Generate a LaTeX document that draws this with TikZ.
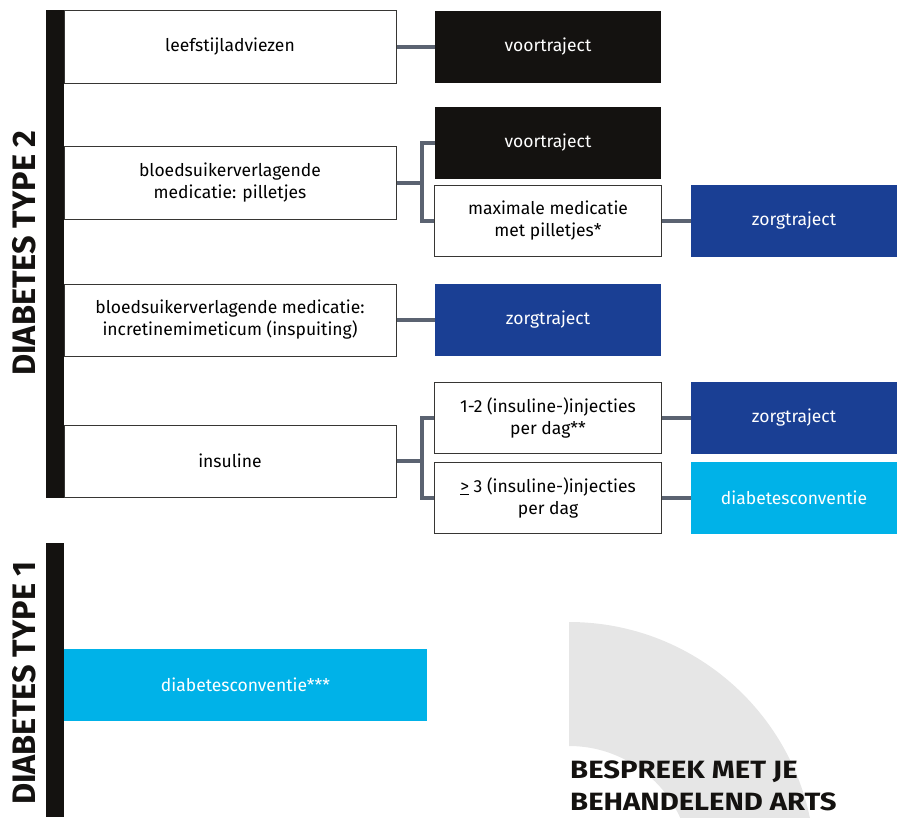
\documentclass[tikz,border=0pt]{standalone}
\usepackage{fontspec}
\setmainfont{Fira Sans}
\newfontfamily\breed{Fira Sans}[FakeStretch=1.17]
\usetikzlibrary{positioning}
\definecolor{zwart}{HTML}{141210}
\definecolor{donkerblauw}{HTML}{1A3F94}
\definecolor{lichtblauw}{HTML}{00B2E8}
\definecolor{lijngrijs}{HTML}{5B6371}
\definecolor{boogrijs}{HTML}{E6E6E6}
\tikzset{
  wit/.style={draw=zwart!85,line width=1pt,fill=white,align=center,inner sep=0pt,font=\fontsize{17.5}{22}\selectfont},
  zwartvak/.style={fill=zwart,text=white,inner sep=0pt,font=\fontsize{17.5}{22}\selectfont},
  donker/.style={fill=donkerblauw,text=white,inner sep=0pt,font=\fontsize{17.5}{22}\selectfont},
  licht/.style={fill=lichtblauw,text=white,inner sep=0pt,font=\fontsize{17.5}{22}\selectfont},
  lijn/.style={draw=lijngrijs,line width=4pt},
  titel/.style={rotate=90,font=\fontsize{32.5}{32}\selectfont\bfseries,text=zwart,inner sep=0pt},
  kop/.style={font=\breed\fontsize{25}{33}\selectfont\bfseries,text=zwart,anchor=base west,inner sep=0pt,text depth=0pt}
}
\begin{document}
\begin{tikzpicture}[x=1pt,y=-1pt]
            \useasboundingbox (0,0) rectangle (897,817);
            \begin{scope}
            \clip (0,0) rectangle (897,817);
            \fill[boogrijs] (569,622) arc[start angle=-90,end angle=0,radius=246] -- (691,868) arc[start angle=0,end angle=-90,radius=122] -- cycle;
            \end{scope}
            \node[kop] (bespreek) at (570,778) {BESPREEK MET JE};
            \node[kop] (arts) at (570,810) {BEHANDELEND ARTS};

            \fill[zwart] (46,10) rectangle (64,498);
            \fill[zwart] (46,543) rectangle (64,817);
            \node[titel] (type2) at (24,253) {DIABETES TYPE 2};
            \node[titel] (type1) at (24,683) {DIABETES TYPE 1};

            \node[wit,minimum width=332pt,minimum height=73pt] (leef) at (230,47) {leefstijladviezen};
            \node[zwartvak,minimum width=226pt,minimum height=72pt] (voor1) at (548,47) {voortraject};

            \node[wit,minimum width=332pt,minimum height=73pt] (pil) at (230,183) {bloedsuikerverlagende\\medicatie: pilletjes};
            \node[zwartvak,minimum width=226pt,minimum height=72pt] (voor2) at (548,143) {voortraject};
            \node[wit,minimum width=227pt,minimum height=71pt] (maxi) at (548,221) {maximale medicatie\\met pilletjes*};
            \node[donker,minimum width=206pt,minimum height=72pt] (zorg1) at (794,221) {zorgtraject};

            \node[wit,minimum width=332pt,minimum height=72pt] (incr) at (230,320) {bloedsuikerverlagende medicatie:\\incretinemimeticum (inspuiting)};
            \node[donker,minimum width=226pt,minimum height=72pt] (zorg2) at (548,320) {zorgtraject};

            \node[wit,minimum width=332pt,minimum height=72pt] (ins) at (230,461) {insuline};
            \node[wit,minimum width=227pt,minimum height=71pt] (een) at (548,418) {1-2 (insuline-)injecties\\per dag**};
            \node[wit,minimum width=227pt,minimum height=71pt] (drie) at (548,498) {\underline{>} 3 (insuline-)injecties\\per dag};
            \node[donker,minimum width=206pt,minimum height=72pt] (zorg3) at (794,418) {zorgtraject};
            \node[licht,minimum width=206pt,minimum height=72pt] (conv1) at (794,498) {diabetesconventie};

            \node[licht,minimum width=363pt,minimum height=72pt] (conv2) at (245.5,685) {diabetesconventie***};

            \draw[lijn] (leef.east) -- (voor1.west);
            \draw[lijn] (pil.east) -- ++(25,0) |- (voor2.west);
            \draw[lijn] (pil.east) -- ++(25,0) |- (maxi.west);
            \draw[lijn] (maxi.east) -- (zorg1.west);
            \draw[lijn] (incr.east) -- (zorg2.west);
            \draw[lijn] (ins.east) -- ++(25,0) |- (een.west);
            \draw[lijn] (ins.east) -- ++(25,0) |- (drie.west);
            \draw[lijn] (een.east) -- (zorg3.west);
            \draw[lijn] (drie.east) -- (conv1.west);
\end{tikzpicture}
\end{document}
